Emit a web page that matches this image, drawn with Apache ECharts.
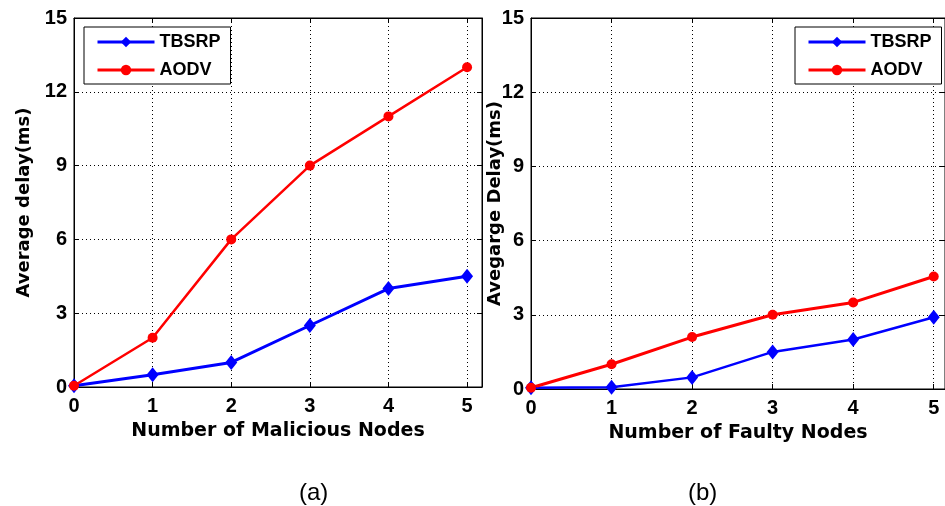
<!DOCTYPE html>
<html>
<head>
<meta charset="utf-8">
<script src="https://cdn.jsdelivr.net/npm/echarts@6/dist/echarts.min.js"></script>
<style>
html,body{margin:0;padding:0;background:#fff;}
#chart{width:945px;height:506px;}
</style>
</head>
<body>
<div id="chart"></div>
<script>
var nodeCounts = [0, 1, 2, 3, 4, 5];
var tbsrpMalicious = [0.05, 0.5, 1.0, 2.5, 4.0, 4.5];
var aodvMalicious = [0.05, 2.0, 6.0, 9.0, 11.0, 13.0];
var tbsrpFaulty = [0.05, 0.07, 0.47, 1.5, 2.0, 2.9];
var aodvFaulty = [0.05, 1.0, 2.1, 3.0, 3.5, 4.55];
var seriesNames = ['TBSRP', 'AODV'];
var xTitles = ['Number of Malicious Nodes', 'Number of Faulty Nodes'];
var yTitles = ['Average delay(ms)', 'Avegarge Delay(ms)'];
var captions = ['(a)', '(b)'];

function pairs(xs, ys) { return xs.map(function (x, i) { return [x, ys[i]]; }); }

var FONT = 'Liberation Sans, Arial, sans-serif';
var WIDE = 'DejaVu Sans, Liberation Sans, sans-serif';
var BLUE = '#0000ff', RED = '#ff0000';

var gridDefs = [
  { left: 74, top: 18, width: 408, height: 369 },
  { left: 531, top: 18, width: 414, height: 371 }
];
var xMax = [5.19, 5.14];

var grids = gridDefs.map(function (g) {
  return Object.assign({ show: true, borderColor: '#000', borderWidth: 1, backgroundColor: '#fff', containLabel: false }, g);
});

var xAxes = [], yAxes = [];
[0, 1].forEach(function (i) {
  xAxes.push({
    type: 'value', gridIndex: i, min: 0, max: xMax[i], interval: 1, position: 'bottom',
    name: xTitles[i], nameLocation: 'middle', nameGap: 35, nameMoveOverlap: false,
    nameTextStyle: { fontFamily: WIDE, fontWeight: 'bold', fontSize: 19, color: '#000' },
    axisLine: { show: true, onZero: false, lineStyle: { color: '#000', width: 1 } },
    axisTick: { show: true, inside: true, length: 5, lineStyle: { color: '#000' } },
    axisLabel: { show: true, showMaxLabel: false, margin: 9, fontFamily: FONT, fontWeight: 'bold', fontSize: 20, color: '#000' },
    splitLine: { show: true, lineStyle: { color: '#000', width: 1, type: [1, 3] } }
  });
  xAxes.push({
    type: 'value', gridIndex: i, min: 0, max: xMax[i], interval: 1, position: 'top',
    axisLine: { show: true, onZero: false, lineStyle: { color: '#000', width: 1 } },
    axisTick: { show: true, inside: true, length: 5, lineStyle: { color: '#000' } },
    axisLabel: { show: false }, splitLine: { show: false }
  });
  yAxes.push({
    type: 'value', gridIndex: i, min: 0, max: 15, interval: 3, position: 'left',
    name: yTitles[i], nameLocation: 'middle', nameGap: i === 0 ? 41 : 27, nameMoveOverlap: false,
    nameTextStyle: { fontFamily: WIDE, fontWeight: 'bold', fontSize: 18, color: '#000' },
    axisLine: { show: true, onZero: false, lineStyle: { color: '#000', width: 1 } },
    axisTick: { show: true, inside: true, length: 5, lineStyle: { color: '#000' } },
    axisLabel: { show: true, margin: 7, fontFamily: FONT, fontWeight: 'bold', fontSize: 20, color: '#000' },
    splitLine: { show: true, lineStyle: { color: '#000', width: 1, type: [1, 3] } }
  });
  yAxes.push({
    type: 'value', gridIndex: i, min: 0, max: 15, interval: 3, position: 'right',
    axisLine: { show: true, onZero: false, lineStyle: { color: '#000', width: 1 } },
    axisTick: { show: true, inside: true, length: 5, lineStyle: { color: '#000' } },
    axisLabel: { show: false }, splitLine: { show: false }
  });
});

function mkSeries(name, data, gi, color, symbol, size, width) {
  return {
    name: name, type: 'line', xAxisIndex: gi * 2, yAxisIndex: gi * 2,
    data: data, symbol: symbol, symbolSize: size, showSymbol: true,
    lineStyle: { color: color, width: width }, itemStyle: { color: color },
    animation: false
  };
}

var series = [
  mkSeries(seriesNames[0], pairs(nodeCounts, tbsrpMalicious), 0, BLUE, 'diamond', [12, 15], 3),
  mkSeries(seriesNames[1], pairs(nodeCounts, aodvMalicious), 0, RED, 'circle', 10, 2.5),
  mkSeries(seriesNames[0], pairs(nodeCounts, tbsrpFaulty), 1, BLUE, 'diamond', [12, 15], 2.5),
  mkSeries(seriesNames[1], pairs(nodeCounts, aodvFaulty), 1, RED, 'circle', 10, 3)
];

function mkLegend(pos) {
  return Object.assign({
    data: seriesNames, orient: 'vertical', itemWidth: 57, itemHeight: 13, itemGap: 10,
    padding: [6, 10, 5, 12], borderColor: '#000', borderWidth: 1, backgroundColor: '#fff',
    textStyle: { fontFamily: FONT, fontWeight: 'bold', fontSize: 18, color: '#000' },
    lineStyle: { width: 3 },
    selectedMode: false
  }, pos);
}

var option = {
  backgroundColor: '#fff',
  animation: false,
  title: [
    { text: captions[0], left: 294, top: 476, textStyle: { fontFamily: FONT, fontWeight: 'normal', fontSize: 24, color: '#000' } },
    { text: captions[1], left: 683, top: 476, textStyle: { fontFamily: FONT, fontWeight: 'normal', fontSize: 24, color: '#000' } }
  ],
  grid: grids,
  xAxis: xAxes,
  yAxis: yAxes,
  legend: [ mkLegend({ left: 84, top: 27 }), mkLegend({ left: 795, top: 27 }) ],
  series: series
};

var chart = echarts.init(document.getElementById('chart'), null, { renderer: 'canvas' });
chart.setOption(option);
</script>
</body>
</html>
